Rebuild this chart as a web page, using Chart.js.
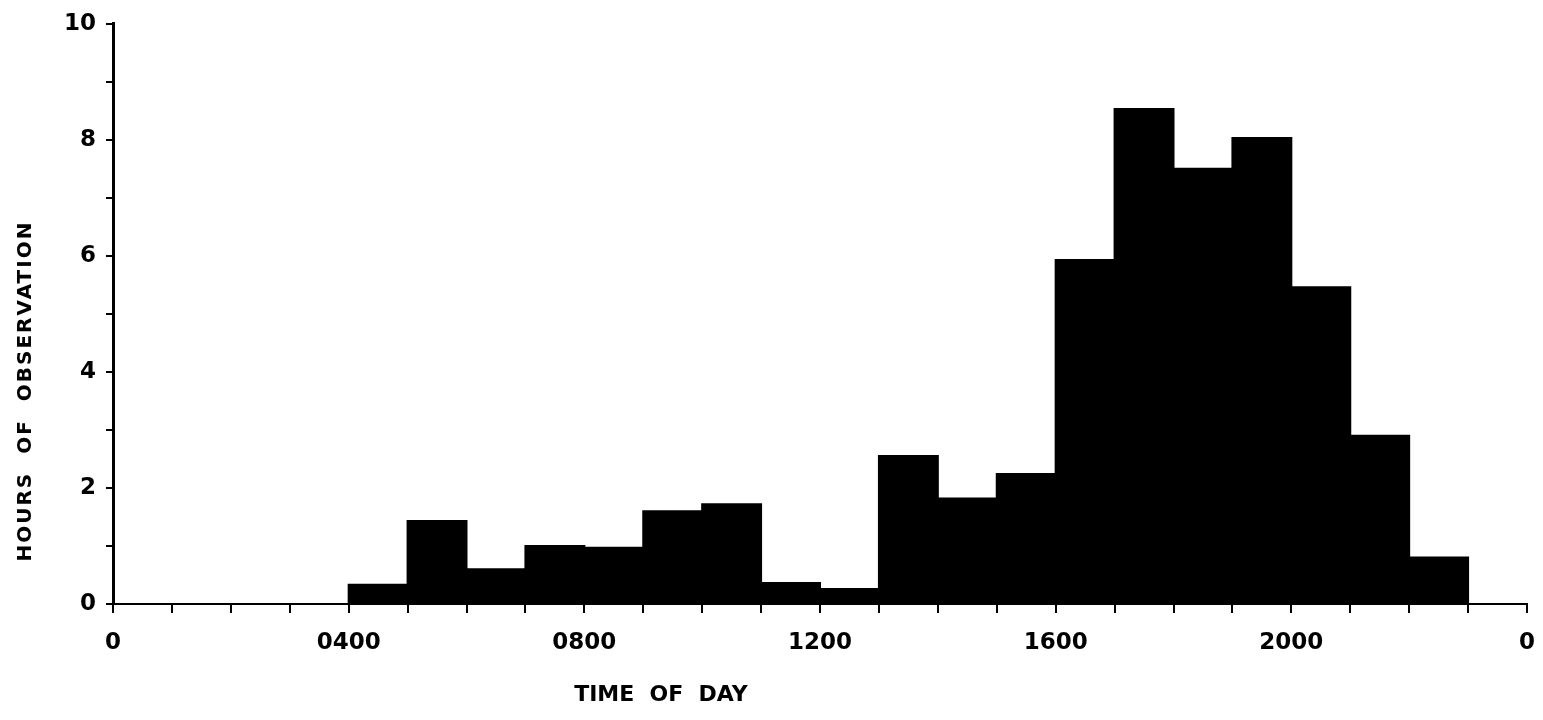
<!DOCTYPE html>
<html>
<head>
<meta charset="utf-8">
<script src="https://cdn.jsdelivr.net/npm/chart.js@4"></script>
<style>
  body { margin: 0; background: #fff; }
  canvas { display: block; }
</style>
</head>
<body>
<canvas id="myChart" width="1543" height="720"></canvas>
<script>
// hour bins (start of each hour)
const binStart = [0, 1, 2, 3, 4, 5, 6, 7, 8, 9, 10, 11, 12, 13, 14, 15, 16, 17, 18, 19, 20, 21, 22, 23];
const hoursObserved = [0, 0, 0, 0, 0.33, 1.43, 0.6, 1.0, 0.97, 1.6, 1.72, 0.36, 0.26, 2.55, 1.82, 2.24, 5.93, 8.53, 7.5, 8.03, 5.46, 2.9, 0.8, 0];
const xTickValues = [0, 4, 8, 12, 16, 20, 24];
const xTickLabels = ['0', '0400', '0800', '1200', '1600', '2000', '0'];
const yTickValues = [0, 2, 4, 6, 8, 10];

const font = { family: 'DejaVu Sans', weight: 'bold', size: 23 };

// axis titles, placed through the scales
const titles = {
    id: 'titles',
    afterDraw(chart) {
        const { ctx, scales: { x, y } } = chart;
        ctx.save();
        ctx.fillStyle = '#000';
        ctx.textAlign = 'center';
        ctx.textBaseline = 'middle';
        ctx.font = 'bold 22px "DejaVu Sans"';
        ctx.fillText('TIME  OF  DAY', x.getPixelForValue(9.3), 695);
        ctx.translate(26, y.getPixelForValue(3.67));
        ctx.rotate(-Math.PI / 2);
        ctx.font = 'bold 20px "DejaVu Sans"';
        ctx.letterSpacing = '2px';
        ctx.fillText('HOURS  OF  OBSERVATION', 0, 0);
        ctx.restore();
    }
};

const ctx = document.getElementById('myChart').getContext('2d');
let myChart = new Chart(ctx, {
    type: 'bar',
    data: {
        datasets: [
            {
                data: binStart.map((h, i) => ({ x: h + 0.5, y: hoursObserved[i] })),
                backgroundColor: '#000',
                borderWidth: 0,
                inflateAmount: 1,
                barPercentage: 1,
                categoryPercentage: 1
            }
        ]
    },
    options: {
        responsive: false,
        animation: false,
        layout: { padding: { left: 0, right: 0, top: 21, bottom: 0 } },
        plugins: { legend: { display: false }, tooltip: { enabled: false } },
        scales: {
            x: {
                type: 'linear',
                min: 0,
                max: 24,
                offset: false,
                afterFit: s => { s.height = 116; s.paddingLeft = 0; s.paddingRight = 16; },
                afterBuildTicks: s => { s.ticks = binStart.concat([24]).map(v => ({ value: v })); },
                ticks: {
                    autoSkip: false,
                    maxRotation: 0,
                    padding: 16,
                    color: '#000',
                    font: font,
                    callback: v => {
                        const i = xTickValues.indexOf(v);
                        return i >= 0 ? xTickLabels[i] : '';
                    }
                },
                grid: { offset: false, drawOnChartArea: false, color: '#000', lineWidth: 2, tickLength: 9 },
                border: { color: '#000', width: 2 }
            },
            y: {
                min: 0,
                max: 10,
                afterFit: s => { s.width = 113; },
                afterBuildTicks: s => { s.ticks = [0, 1, 2, 3, 4, 5, 6, 7, 8, 9, 10].map(v => ({ value: v })); },
                ticks: {
                    padding: 10,
                    color: '#000',
                    font: font,
                    callback: v => yTickValues.includes(v) ? String(v) : ''
                },
                grid: { drawOnChartArea: false, color: '#000', lineWidth: 2, tickLength: 7 },
                border: { color: '#000', width: 3 }
            }
        }
    },
    plugins: [titles]
});
</script>
</body>
</html>
